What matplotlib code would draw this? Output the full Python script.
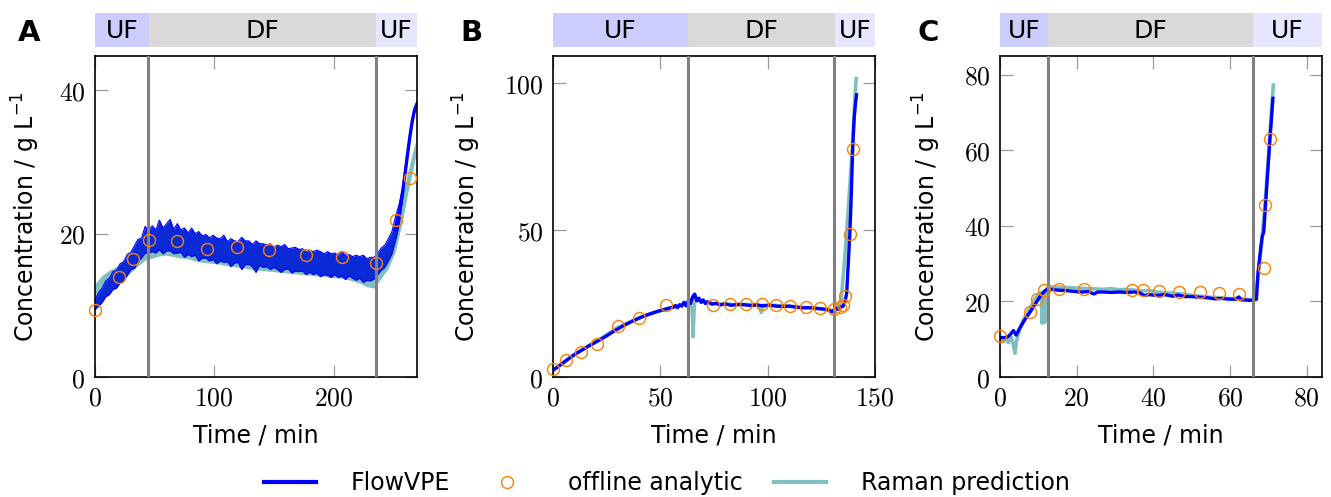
import matplotlib
matplotlib.use("Agg")
import matplotlib.pyplot as plt
from matplotlib.ticker import FuncFormatter
from matplotlib.lines import Line2D
import numpy as np

plt.rcParams['mathtext.fontset'] = 'cm'
plt.rcParams['font.family'] = ['DejaVu Sans']

# ---------------- Panel A data ----------------
flow_a_t = [0, 3, 6, 9, 12, 15, 18, 21, 24, 27, 30, 33, 36, 39, 42, 45, 48, 51, 54, 57,
            60, 63, 66, 69, 72, 75, 78, 81, 84, 87, 90, 93, 96, 99, 102, 105, 108, 111, 114, 117,
            120, 123, 126, 129, 132, 135, 138, 141, 144, 147, 150, 153, 156, 159, 162, 165, 168, 171, 174, 177,
            180, 183, 186, 189, 192, 195, 198, 201, 204, 207, 210, 213, 216, 219, 222, 225, 228, 231, 234, 237,
            240, 243, 246, 249, 252, 255, 258, 260, 262, 264, 266, 268, 270]
flow_a_c = [10.0, 10.8, 11.5, 12.2, 12.8, 13.3, 13.8, 14.3, 14.9, 15.5, 16.1, 16.8, 17.4, 18.0, 18.5, 18.8, 18.9, 19.0, 19.1, 19.1,
            19.1, 19.0, 19.0, 18.9, 18.8, 18.7, 18.6, 18.5, 18.4, 18.3, 18.2, 18.1, 18.0, 17.9, 17.8, 17.8, 17.7, 17.6, 17.6, 17.5,
            17.5, 17.5, 17.4, 17.3, 17.2, 17.2, 17.1, 17.0, 17.0, 16.9, 16.8, 16.8, 16.7, 16.6, 16.6, 16.5, 16.4, 16.4, 16.3, 16.2,
            16.2, 16.1, 16.0, 16.0, 15.9, 15.9, 15.8, 15.8, 15.7, 15.7, 15.6, 15.6, 15.5, 15.4, 15.4, 15.3, 15.2, 15.2, 15.3, 15.8,
            16.4, 17.0, 17.6, 18.8, 20.6, 22.6, 25.8, 28.4, 31.0, 33.5, 35.7, 37.3, 38.1]
# hand-read spread of the noisy band above / below the centre
flow_a_up = [0.7, 1.0, 0.9, 1.2, 1.0, 1.4, 1.1, 1.5, 1.2, 1.6, 1.3, 1.5, 1.8, 1.4, 2.5, 1.7,
             2.2, 1.5, 2.8, 1.7, 2.3, 3.0, 1.6, 2.5, 1.7, 2.1, 1.5, 2.3, 1.6, 2.0, 1.5, 1.8,
             1.4, 1.9, 1.6, 1.5, 2.1, 1.3, 1.7, 1.5, 1.4, 2.0, 1.6, 1.7, 1.3, 1.8, 1.5, 1.6,
             1.4, 1.7, 1.3, 1.6, 1.5, 1.9, 1.3, 1.5, 1.7, 1.4, 1.6, 1.3, 1.5, 1.4, 1.7, 1.5,
             1.3, 1.6, 1.4, 1.5, 1.3, 1.8, 1.4, 1.5, 1.3, 1.6, 1.4, 1.7, 1.3, 1.5, 1.4, 1.5,
             1.6, 1.4, 1.7, 1.5, 1.8, 1.5, 0.8, 0.6, 0.4, 0.4, 0.4, 0.35, 0.3]
flow_a_dn = [0.6, 0.9, 1.1, 1.0, 1.3, 1.1, 1.4, 1.2, 1.5, 1.3, 1.1, 1.6, 1.3, 1.4, 1.2, 1.5,
             1.4, 1.7, 1.3, 1.9, 1.5, 1.4, 1.8, 1.6, 1.4, 2.0, 1.5, 1.7, 1.4, 2.1, 1.6, 1.5,
             1.8, 1.5, 2.0, 1.6, 1.7, 1.5, 2.2, 1.6, 1.5, 2.5, 1.7, 1.6, 1.8, 2.6, 1.5, 1.7,
             1.6, 1.9, 1.5, 1.8, 2.1, 1.6, 1.5, 2.0, 1.6, 1.7, 1.5, 1.9, 1.6, 1.8, 1.5, 2.0,
             1.6, 1.7, 1.9, 1.5, 1.8, 1.6, 2.0, 1.5, 1.7, 1.9, 1.6, 2.1, 1.7, 1.8, 1.6, 1.5,
             1.5, 1.7, 1.4, 1.6, 1.5, 1.4, 0.8, 0.6, 0.4, 0.4, 0.4, 0.35, 0.3]

raman_a_t = [0, 6, 12, 18, 24, 30, 36, 42, 48, 54, 60, 66, 72, 78, 84, 90, 96, 102, 108, 114,
             120, 126, 132, 138, 144, 150, 156, 162, 168, 174, 180, 186, 192, 198, 204, 210, 216, 222, 228, 234,
             240, 246, 252, 258, 262, 266, 269]
raman_a_lo = [10.0, 11.0, 12.0, 12.8, 13.6, 14.6, 15.5, 16.3, 16.6, 16.9, 17.0, 16.8, 16.6, 16.5, 16.2, 16.0, 15.9, 15.8, 15.6, 15.5,
              15.3, 15.2, 15.0, 14.9, 14.8, 14.7, 14.6, 14.5, 14.4, 14.3, 14.2, 14.1, 14.0, 13.9, 13.8, 13.7, 13.4, 13.1, 12.6, 12.4,
              13.8, 15.2, 17.6, 22.0, 25.5, 28.5, 30.8]
raman_a_hi = [13.0, 14.2, 14.9, 15.4, 16.2, 17.0, 18.0, 18.9, 19.6, 19.8, 19.9, 19.8, 19.6, 19.5, 19.3, 19.2, 19.0, 18.9, 18.8, 18.7,
              18.6, 18.5, 18.4, 18.5, 18.3, 18.1, 17.9, 17.8, 17.6, 17.5, 17.4, 17.2, 17.1, 16.9, 16.8, 16.6, 16.4, 16.3, 16.2, 16.4,
              17.0, 18.3, 21.0, 25.2, 28.4, 31.2, 33.0]

offline_a_t = [0, 20.4, 31.9, 45.3, 68.5, 94, 119.4, 145.7, 177.3, 207.5, 235.7, 252.5, 264]
offline_a_c = [9.4, 14.0, 16.5, 19.1, 19.0, 17.9, 18.2, 17.7, 17.0, 16.7, 15.9, 21.9, 27.8]

# ---------------- Panel B data ----------------
flow_b_t = [0, 2, 4, 6, 8, 10, 12, 14, 16, 18, 20, 22, 25, 28, 31, 34, 37, 40, 43, 46,
            49, 52, 54, 56, 57, 58, 59, 60, 61, 62, 63, 64, 65, 66, 67, 68, 69, 70, 71, 72,
            74, 76, 78, 80, 83, 86, 89, 92, 95, 98, 101, 104, 107, 110, 113, 116, 119, 122, 125, 128,
            130, 131, 132, 133, 134, 135, 136, 136.8, 137.5, 138.3, 139, 139.6, 140.3, 140.9, 141.4]
flow_b_c = [2.3, 3.3, 4.4, 5.5, 6.6, 7.6, 8.5, 9.4, 10.3, 11.1, 11.9, 12.7, 14.0, 15.4, 16.7, 17.9, 19.0, 20.0, 20.9, 21.7,
            22.4, 23.0, 23.4, 23.7, 24.3, 23.6, 24.6, 24.1, 25.4, 24.2, 25.8, 25.0, 27.2, 28.2, 25.9, 26.8, 25.4, 26.2, 25.0, 25.6,
            24.8, 25.1, 24.5, 24.9, 24.4, 24.7, 24.6, 24.3, 24.5, 24.2, 24.4, 24.1, 24.0, 24.1, 23.8, 23.5, 23.6, 23.4, 23.2, 22.9,
            22.2, 22.8, 23.5, 23.0, 23.8, 24.0, 25.5, 28.5, 38.0, 49.0, 63.0, 78.0, 88.0, 93.0, 96.0]

raman_b_t = [0, 10, 20, 30, 40, 50, 55, 60, 63, 64.5, 65.0, 65.3, 65.6, 66, 68, 70, 75, 80, 85, 90,
             95, 96.5, 97, 97.5, 100, 105, 110, 115, 120, 125, 130, 132, 133.5, 134.5, 135.5, 136.8, 137.8, 138.7, 139.5, 140.3,
             140.8, 141.2]
raman_b_c = [2.4, 7.7, 12.0, 16.8, 20.1, 22.5, 23.6, 24.6, 25.5, 26.0, 20.0, 13.7, 21.0, 26.5, 26.0, 25.6, 24.9, 24.8, 24.6, 24.7,
             24.6, 24.0, 22.0, 24.3, 24.5, 24.3, 24.1, 23.8, 23.5, 23.1, 22.6, 22.8, 24.0, 28.5, 37.0, 49.0, 60.0, 70.0, 78.0, 90.0,
             97.0, 101.5]

offline_b_t = [0, 6.1, 12.9, 20.3, 30.3, 40.2, 52.6, 74.4, 82.3, 89.9, 97.2, 103.7, 110.4, 117.7, 124.4,
               131, 133.5, 135, 136, 138.3, 139.9]
offline_b_c = [2.6, 5.8, 8.6, 11.3, 17.3, 20.2, 24.4, 24.4, 24.7, 24.8, 24.7, 24.6, 24.3, 23.9, 23.5,
               23.3, 23.8, 24.4, 27.6, 48.6, 77.6]

# ---------------- Panel C data ----------------
flow_c_t = [0, 1, 2, 2.8, 3.5, 4.2, 5, 6, 7, 8, 9, 10, 11, 11.8, 12.5, 13.5, 15, 17, 19, 21,
            23, 24.5, 25.5, 27, 29, 31, 33, 35, 36.5, 37.5, 39, 41, 43, 45, 46.5, 48, 50, 52, 54, 56,
            58, 60, 61.5, 62.3, 63, 64, 65, 66, 66.9, 67.3, 68.0, 68.4, 68.8, 69.3, 70.4, 71.2]
flow_c_c = [10.5, 10.4, 10.6, 11.4, 12.3, 11.1, 12.6, 14.4, 16.0, 17.4, 19.0, 20.6, 22.0, 22.9, 23.3, 23.2, 23.0, 22.9, 22.7, 22.5,
            22.6, 22.0, 22.5, 22.5, 22.4, 22.5, 22.4, 22.5, 22.3, 21.6, 21.8, 21.6, 21.8, 21.4, 21.7, 21.3, 21.3, 21.1, 21.0, 20.7,
            20.8, 20.6, 20.6, 21.2, 20.4, 20.4, 20.3, 20.3, 20.6, 27.5, 34.0, 37.2, 38.4, 46.0, 62.8, 73.8]

raman_c_t = [0, 0.8, 1.5, 2.2, 3.0, 3.5, 3.9, 4.3, 5, 6, 7, 8, 9, 10, 10.8, 11.0, 11.3, 11.7, 12.0, 12.5,
             13.5, 15, 17, 19, 21, 23, 25, 27, 29, 31, 33, 35, 37, 39, 41, 43, 45, 47, 49, 51,
             53, 55, 57, 59, 61, 63, 65, 66.5, 67.3, 68.2, 69.0, 70.0, 70.8, 71.3]
raman_c_c = [10.0, 9.4, 10.2, 9.1, 10.5, 8.5, 6.3, 9.5, 12.3, 15.0, 16.8, 18.6, 20.5, 21.8, 22.5, 14.2, 21.0, 14.5, 22.8, 23.6,
             23.9, 23.8, 23.7, 23.6, 23.5, 23.4, 23.3, 23.2, 23.4, 23.1, 23.2, 23.0, 22.8, 22.9, 22.5, 22.3, 22.2, 22.0, 21.8, 21.5,
             21.3, 21.1, 21.0, 20.8, 20.7, 20.6, 20.5, 20.6, 26.5, 35.0, 44.0, 58.0, 70.0, 77.3]

offline_c_t = [0, 7.8, 9.6, 11.6, 15.3, 21.8, 34.5, 37.3, 41.4, 46.8, 52.1, 57.2, 62.4, 68.9, 69.1, 70.4]
offline_c_c = [10.9, 17.2, 20.7, 23.1, 23.4, 23.4, 23.1, 23.1, 22.7, 22.6, 22.5, 22.3, 22.0, 28.9, 45.5, 62.9]

# ---------------- Phases / axes settings ----------------
phase_labels = ['UF', 'DF', 'UF']
phase_a = [0, 45, 236, 270]
phase_b = [0, 63, 131.3, 150]
phase_c = [0, 12.5, 65.9, 84]
switch_a = [44.7, 236]
switch_b = [63, 131]
switch_c = [12.6, 66]
xticks_a = [0, 100, 200]
yticks_a = [0, 20, 40]
xticks_b = [0, 50, 100, 150]
yticks_b = [0, 50, 100]
xticks_c = [0, 20, 40, 60, 80]
yticks_c = [0, 20, 40, 60, 80]
panel_letters = ['A', 'B', 'C']

BLUE = '#0000ff'
BAND = '#0a2ad8'
TEAL = '#80bfbf'
ORANGE = '#ff8000'
GRAY = '#808080'
phase_colors = ['#ccccff', '#d9d9d9', '#e6e6ff']

W, H = 1331, 497
fig = plt.figure(figsize=(W / 100, H / 100), dpi=100)

lefts = [95, 553, 1000]
ax_w = 322
ax_top, ax_bot = 56, 377
bar_top, bar_bot = 13, 47
ylims = [(0, 44.8), (0, 109.2), (0, 85)]
xlims = [(0, 270), (0, 150), (0, 84)]
ylabel_x = [-0.165, -0.218, -0.176]
letter_x = [18, 460, 918]

fmt = FuncFormatter(lambda v, p: r'$%g$' % v)

axes = []
for i in range(3):
    l = lefts[i] / W
    ax = fig.add_axes([l, 1 - ax_bot / H, ax_w / W, (ax_bot - ax_top) / H])
    axb = fig.add_axes([l, 1 - bar_bot / H, ax_w / W, (bar_bot - bar_top) / H])
    axes.append((ax, axb))

def style_axes(ax, axb, xlim, ylim, xt, yt, phases, switches, idx):
    ax.set_xlim(*xlim)
    ax.set_ylim(*ylim)
    ax.set_xticks(xt)
    ax.set_yticks(yt)
    ax.xaxis.set_major_formatter(fmt)
    ax.yaxis.set_major_formatter(fmt)
    ax.tick_params(direction='in', length=9, width=0.9, color='#9a9a9a', labelsize=18.5,
                   top=True, right=True, pad=6)
    ax.tick_params(axis='y', pad=7)
    for s in ax.spines.values():
        s.set_linewidth(1.2)
    for sw in switches:
        ax.axvline(sw, color=GRAY, lw=2.2, zorder=4)
    ax.set_xlabel('Time / min', fontsize=17)
    ax.set_ylabel(r'Concentration / g L$^{-1}$', fontsize=17, math_fontfamily='dejavusans')
    ax.xaxis.set_label_coords(0.5, -0.145)
    ax.yaxis.set_label_coords(ylabel_x[idx], 0.5)
    # phase bar
    axb.set_xlim(*xlim)
    axb.set_ylim(0, 1)
    axb.axis('off')
    for k in range(3):
        axb.axvspan(phases[k], phases[k + 1], color=phase_colors[k], lw=0)
        axb.text((phases[k] + phases[k + 1]) / 2, 0.48, phase_labels[k], ha='center', va='center',
                 fontsize=18)

# Panel A
ax, axb = axes[0]
fa_c = np.array(flow_a_c)
fa_hi = fa_c + np.array(flow_a_up)
fa_lo = fa_c - np.array(flow_a_dn)
ax.fill_between(raman_a_t, raman_a_lo, raman_a_hi, color=TEAL, lw=0, zorder=1)
ax.fill_between(flow_a_t, fa_lo, fa_hi, color=BAND, lw=0, zorder=2)
ax.plot(flow_a_t, fa_lo, color=BLUE, lw=0.8, zorder=2)
ax.plot(flow_a_t, fa_hi, color=BLUE, lw=0.8, zorder=2)
ax.plot(flow_a_t[84:], flow_a_c[84:], color=BLUE, lw=2.4, zorder=2)
ax.plot(offline_a_t, offline_a_c, 'o', ms=8.6, mfc='none', mec=ORANGE, mew=1.0, zorder=5, clip_on=False)
style_axes(ax, axb, xlims[0], ylims[0], xticks_a, yticks_a, phase_a, switch_a, 0)

# Panel B
ax, axb = axes[1]
ax.plot(raman_b_t, raman_b_c, color=TEAL, lw=2.6, zorder=1)
ax.plot(flow_b_t, flow_b_c, color=BLUE, lw=2.4, zorder=2)
ax.plot(offline_b_t, offline_b_c, 'o', ms=8.6, mfc='none', mec=ORANGE, mew=1.0, zorder=5, clip_on=False)
style_axes(ax, axb, xlims[1], ylims[1], xticks_b, yticks_b, phase_b, switch_b, 1)

# Panel C
ax, axb = axes[2]
ax.plot(raman_c_t, raman_c_c, color=TEAL, lw=2.6, zorder=1)
ax.plot(flow_c_t, flow_c_c, color=BLUE, lw=2.4, zorder=2)
ax.plot(offline_c_t, offline_c_c, 'o', ms=8.6, mfc='none', mec=ORANGE, mew=1.0, zorder=5, clip_on=False)
style_axes(ax, axb, xlims[2], ylims[2], xticks_c, yticks_c, phase_c, switch_c, 2)

for i in range(3):
    fig.text(letter_x[i] / W, 1 - 41 / H, panel_letters[i], fontsize=21, fontweight='bold',
             ha='left', va='baseline')

handles = [Line2D([], [], color=BLUE, lw=3),
           Line2D([], [], marker='o', ls='none', ms=8.6, mfc='none', mec=ORANGE, mew=1.0),
           Line2D([], [], color=TEAL, lw=3)]
fig.legend(handles, ['FlowVPE', 'offline analytic', 'Raman prediction'], loc='center',
           bbox_to_anchor=(0.501, 0.028), ncol=3, frameon=False, fontsize=17,
           handlelength=2.2, handletextpad=1.5, columnspacing=1.3)

fig.savefig('out.png', dpi=100)
